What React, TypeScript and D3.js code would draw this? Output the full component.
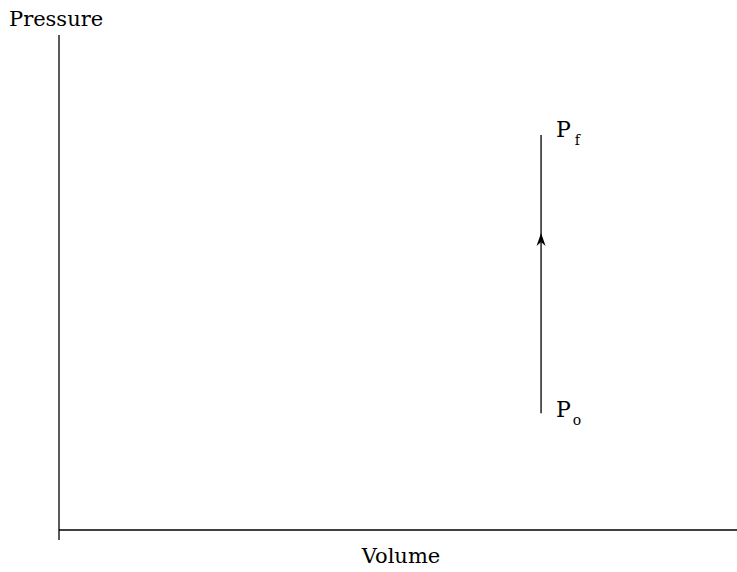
import React from "react";
import * as d3 from "d3";

const axisLabels = ["Volume", "Pressure"];
const processVolume = [7.11, 7.11];
const processPressure = [2.36, 7.98];
const pointLabels = [
  { base: "P", sub: "o" },
  { base: "P", sub: "f" },
];
const arrowPressure = 6.0;

export default function App() {
  const W = 737;
  const H = 572;
  const x = d3.scaleLinear().domain([0, 10]).range([59, 737]);
  const y = d3.scaleLinear().domain([0, 10]).range([530, 35]);
  const line = d3
    .line<[number, number]>()
    .x((d) => x(d[0]))
    .y((d) => y(d[1]));
  const pts: [number, number][] = processVolume.map((v, i) => [v, processPressure[i]]);
  const ax = x(processVolume[0]);
  const ay = y(arrowPressure);
  const font = "'DejaVu Serif', serif";
  return (
    <svg
      width={W}
      height={H}
      style={{ position: "absolute", left: 0, top: 0, background: "#fff" }}
      fontFamily={font}
    >
      <line x1={x(0)} x2={x(0)} y1={y(10)} y2={540} stroke="#000" strokeWidth={1.3} />
      <line x1={x(0)} x2={x(10)} y1={y(0)} y2={y(0)} stroke="#000" strokeWidth={1.3} />
      <path d={line(pts) || ""} stroke="#000" strokeWidth={1.3} fill="none" />
      <path
        d={`M${ax},${ay} L${ax + 4.5},${ay + 13} L${ax},${ay + 9} L${ax - 4.5},${ay + 13} Z`}
        fill="#000"
      />
      {pointLabels.map((l, i) => (
        <text key={i} x={ax + 15} y={y(processPressure[i]) + (l.sub === "f" ? 2 : 4)} fontSize={22}>
          {l.base}
          <tspan fontSize={14} dx={l.sub === "f" ? 4 : 2} dy={8}>
            {l.sub}
          </tspan>
        </text>
      ))}
      <text x={401} y={563} fontSize={21} textAnchor="middle">
        {axisLabels[0]}
      </text>
      <text x={9} y={26} fontSize={21}>
        {axisLabels[1]}
      </text>
    </svg>
  );
}
